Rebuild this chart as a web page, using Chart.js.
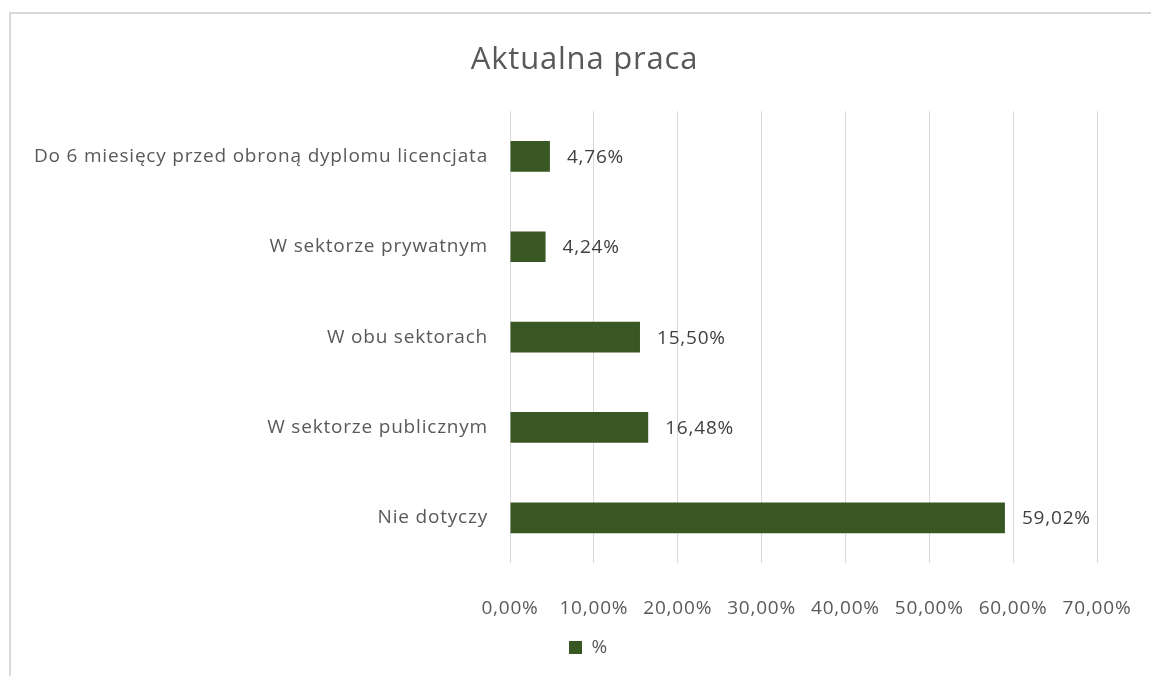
<!DOCTYPE html>
<html>
<head>
<meta charset="utf-8">
<script src="https://cdn.jsdelivr.net/npm/chart.js@4/dist/chart.umd.min.js"></script>
<style>
  html, body { margin: 0; padding: 0; background: #fff; overflow: hidden; }
  #wrap { position: relative; width: 1151px; height: 676px; }
  #frame { position: absolute; left: 9px; top: 12px; width: 1200px; height: 700px;
           border-top: 2px solid #d9d9d9; border-left: 2px solid #d9d9d9; }
  canvas { position: absolute; left: 0; top: 0; }
</style>
</head>
<body>
<div id="wrap">
  <div id="frame"></div>
  <canvas id="myChart" width="1151" height="676"></canvas>
</div>
<script>
var ctx = document.getElementById('myChart').getContext('2d');

// categories top to bottom, as in the picture
var categories = [
    'Do 6 miesięcy przed obroną dyplomu licencjata',
    'W sektorze prywatnym',
    'W obu sektorach',
    'W sektorze publicznym',
    'Nie dotyczy'
];
var percentValues = [4.76, 4.24, 15.50, 16.48, 59.02];
var seriesName = '%';
var barColor = '#385723';
var fontFamily = '"Open Sans", sans-serif';
var spacing = '0.8px'; // excel text runs a bit wider than open sans

function plPercent(v) {
    return v.toFixed(2).replace('.', ',') + '%';
}

// letter spacing + move title/legend to the centre of the whole frame
var excelLook = {
    id: 'excelLook',
    beforeLayout: function(chart) { chart.ctx.letterSpacing = spacing; },
    afterLayout: function(chart) {
        var t = chart.titleBlock, l = chart.legend;
        t.left += 36; t.right += 36;
        l.left += 40; l.right += 40;
    },
    beforeDraw: function(chart) { chart.ctx.letterSpacing = spacing; }
};

// value text next to each bar
var valueLabels = {
    id: 'valueLabels',
    afterDatasetsDraw: function(chart) {
        var c = chart.ctx;
        var meta = chart.getDatasetMeta(0);
        c.save();
        c.font = '19px ' + fontFamily;
        c.fillStyle = '#404040';
        c.textAlign = 'left';
        c.textBaseline = 'middle';
        meta.data.forEach(function(bar, i) {
            c.fillText(plPercent(percentValues[i]), bar.x + 17, bar.y + 1);
        });
        c.restore();
    }
};

var chart = new Chart(ctx, {
    type: 'bar',
    data: {
        labels: categories,
        datasets: [{
            label: seriesName,
            data: percentValues,
            backgroundColor: barColor,
            borderWidth: 0,
            categoryPercentage: 1,
            barPercentage: 0.34
        }]
    },
    options: {
        indexAxis: 'y',
        responsive: false,
        animation: false,
        layout: {
            padding: { left: 0, right: 54, top: 0, bottom: 9 }
        },
        plugins: {
            title: {
                display: true,
                text: 'Aktualna praca',
                color: '#595959',
                font: { size: 31, family: fontFamily, weight: 'normal' },
                padding: { top: 42, bottom: 32 }
            },
            legend: {
                position: 'bottom',
                labels: {
                    boxWidth: 13,
                    boxHeight: 13,
                    color: '#595959',
                    font: { size: 19, family: fontFamily },
                    padding: 18
                }
            },
            tooltip: { enabled: false }
        },
        scales: {
            x: {
                min: 0,
                max: 70,
                ticks: {
                    stepSize: 10,
                    minRotation: 0,
                    maxRotation: 0,
                    color: '#595959',
                    font: { size: 19, family: fontFamily },
                    padding: 34,
                    callback: function(v) { return plPercent(v); }
                },
                grid: { color: '#d9d9d9', lineWidth: 1, drawTicks: false },
                border: { display: false },
                afterFit: function(scale) {
                    scale.height = 57;
                    scale.paddingRight = 0; // 70% gridline sits at x=1097
                }
            },
            y: {
                ticks: {
                    color: '#595959',
                    font: { size: 19, family: fontFamily },
                    padding: 22
                },
                grid: { display: false, drawTicks: false },
                border: { display: false },
                afterFit: function(scale) { scale.width = 510; }
            }
        }
    },
    plugins: [excelLook, valueLabels]
});
</script>
</body>
</html>
